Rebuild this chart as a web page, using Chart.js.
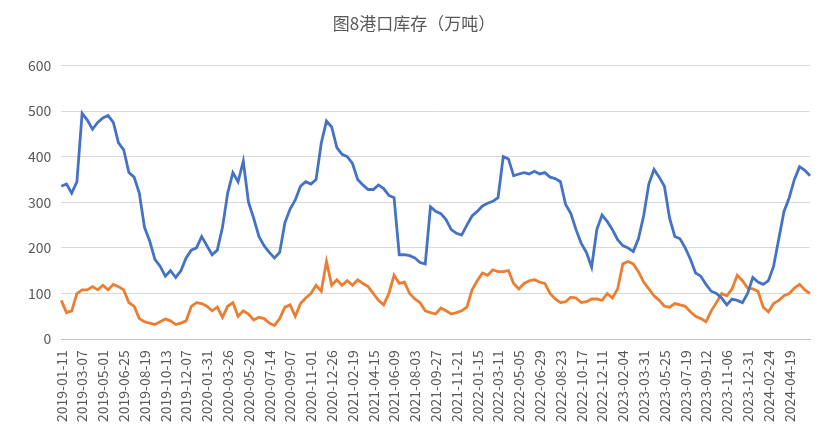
<!DOCTYPE html>
<html><head><meta charset="utf-8">
<script src="https://cdn.jsdelivr.net/npm/chart.js@4/dist/chart.umd.min.js"></script>
<style>html,body{margin:0;background:#fff}#w{width:835px;height:425px}</style>
</head><body><div id="w"><canvas id="c"></canvas></div>
<script>
const tickLabels=["2019-01-11","2019-03-07","2019-05-01","2019-06-25","2019-08-19","2019-10-13","2019-12-07","2020-01-31","2020-03-26","2020-05-20","2020-07-14","2020-09-07","2020-11-01","2020-12-26","2021-02-19","2021-04-15","2021-06-09","2021-08-03","2021-09-27","2021-11-21","2022-01-15","2022-03-11","2022-05-05","2022-06-29","2022-08-23","2022-10-17","2022-12-11","2023-02-04","2023-03-31","2023-05-25","2023-07-19","2023-09-12","2023-11-06","2023-12-31","2024-02-24","2024-04-19"];
const seriesBlue=[335,340,320,345,495,480,460,475,485,490,475,430,415,365,355,320,245,215,175,160,138,150,135,150,178,195,200,225,205,185,195,245,320,365,345,390,300,265,225,205,190,178,190,255,285,305,335,345,340,350,430,478,465,420,405,400,385,350,338,328,328,338,330,315,310,185,185,183,178,168,165,290,280,275,262,240,232,228,250,270,280,292,298,302,310,400,395,358,362,365,362,368,362,365,355,352,345,295,275,240,210,190,158,240,272,258,240,218,205,200,192,220,270,340,372,355,335,265,225,220,200,175,145,138,120,105,100,90,75,88,85,80,100,135,125,120,128,160,220,280,310,350,378,370,358];
const seriesOrange=[85,58,62,100,108,108,115,108,118,108,120,115,108,80,72,45,38,35,32,38,44,40,32,35,40,72,80,78,72,62,70,48,72,80,50,62,55,42,48,45,35,30,45,70,75,50,78,90,100,118,105,170,118,130,118,128,118,130,122,115,100,85,75,100,140,122,125,100,88,80,62,58,55,68,62,55,58,62,70,108,128,145,140,152,148,148,150,122,110,122,128,130,125,122,100,88,80,82,92,90,80,82,88,88,85,100,90,110,165,170,165,148,125,110,95,85,72,70,78,75,72,60,50,45,38,62,80,100,95,110,140,128,112,110,105,70,60,78,85,95,100,112,120,108,100];
const categories=seriesBlue.map((_,i)=>{const t=tickLabels[Math.floor(i/4)];if(i%4===0&&t)return t;const d=new Date(tickLabels[0]+"T00:00:00Z");d.setUTCDate(d.getUTCDate()+Math.round(i*13.75));return d.toISOString().slice(0,10);});
new Chart(document.getElementById('c'),{type:'line',
data:{labels:categories,datasets:[
{data:seriesBlue,borderColor:'#4472C4',borderWidth:2.8,pointRadius:0,tension:0},
{data:seriesOrange,borderColor:'#ED7D31',borderWidth:2.8,pointRadius:0,tension:0}]},
options:{responsive:true,maintainAspectRatio:false,animation:false,
layout:{padding:{left:18,right:25,top:5,bottom:0}},
plugins:{legend:{display:false},title:{display:true,text:'图8港口库存（万吨）',color:'#595959',font:{size:17,weight:'normal',family:'Noto Sans CJK SC'},padding:{top:8,bottom:32}}},
scales:{x:{grid:{display:false},border:{color:'#bfbfbf'},ticks:{autoSkip:false,maxRotation:90,minRotation:90,color:'#595959',font:{size:14,family:'Noto Sans CJK SC'},callback:function(v,i){return (i%4===0&&i<144)?this.getLabelForValue(v):null;}}},
y:{min:0,max:600,ticks:{stepSize:100,color:'#595959',font:{size:14,family:'Noto Sans CJK SC'},padding:10},grid:{color:'#d9d9d9',drawTicks:false},border:{display:false}}}}});
</script></body></html>
